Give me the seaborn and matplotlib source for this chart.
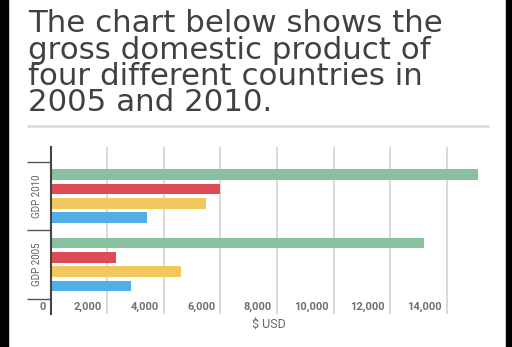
import matplotlib
matplotlib.use("Agg")
import matplotlib.pyplot as plt
import matplotlib.transforms as mtrans
from matplotlib.patches import Rectangle
from matplotlib.lines import Line2D
import seaborn as sns
import pandas as pd

# ---- data ----
periods = ["GDP 2010", "GDP 2005"]
countries = ["USA", "China", "Japan", "Germany"]
gdp_2010 = [15100, 6000, 5500, 3400]
gdp_2005 = [13200, 2300, 4600, 2850]
colors = ["#88C0A0", "#DD4B55", "#F1C75E", "#52AEE6"]
x_ticks = [0, 2000, 4000, 6000, 8000, 10000, 12000, 14000]
title_lines = ["The chart below shows the",
               "gross domestic product of",
               "four different countries in",
               "2005 and 2010."]
x_label = "\\$ USD"

rows = []
for p, vals in zip(periods, [gdp_2010, gdp_2005]):
    for c, v in zip(countries, vals):
        rows.append({"period": p, "country": c, "gdp": v})
df = pd.DataFrame(rows)

sns.set_style("white")
plt.rcParams["font.family"] = ["Roboto", "DejaVu Sans"]

W, H = 512, 347
fig = plt.figure(figsize=(W / 100, H / 100), dpi=100)
fig.patch.set_facecolor("white")

ax = fig.add_axes([50.7 / W, 1 - 314 / H, (487 - 50.7) / W, (314 - 146.7) / H])
sns.barplot(data=df, y="period", x="gdp", hue="country", order=periods,
            hue_order=countries, palette=colors, orient="h", width=0.84,
            gap=0.25, linewidth=0, saturation=1, errorbar=None,
            legend=False, ax=ax)

ax.set_xlim(0, 15420)
ax.set_ylim(1.726, -0.727)

for s in ["top", "right", "bottom"]:
    ax.spines[s].set_visible(False)
ax.spines["left"].set_color("#444444")
ax.spines["left"].set_linewidth(1.5)
ax.spines["left"].set_zorder(5)

ax.set_axisbelow(True)
ax.xaxis.grid(True, color="#cfcfcf", lw=1.1)
ax.yaxis.grid(False)

# y ticks: boundaries (major) and labels (minor)
ax.set_yticks([-0.5, 0.5, 1.5])
ax.set_yticklabels([])
ax.tick_params(axis="y", which="major", length=17, width=1, color="#555555",
               direction="out", left=True)
ax.set_yticks([0, 1], minor=True)
ax.set_yticklabels(periods, minor=True, rotation=90, va="center",
                   fontsize=7, color="#5e5e5e")
ax.tick_params(axis="y", which="minor", length=0, pad=6)

# x ticks
ax.set_xticks(x_ticks)
ax.set_xticklabels(["0" if v == 0 else f"{v:,}" for v in x_ticks])
ax.tick_params(axis="x", length=0, pad=-4.8, labelsize=8, labelcolor="#707070")
offset = mtrans.ScaledTranslation(-5 / 100, 0, fig.dpi_scale_trans)
for lab in ax.get_xticklabels():
    lab.set_ha("right")
    lab.set_va("center")
    lab.set_fontweight("bold")
    lab.set_transform(lab.get_transform() + offset)

ax.set_xlabel(x_label, fontsize=9, color="#666666", labelpad=3)
ax.set_ylabel("")

# title, fitted to reference width
title_family = ["DejaVu Sans"]
renderer = fig.canvas.get_renderer()
probe = fig.text(0, 0, title_lines[0], fontsize=20, family=title_family)
wpx = probe.get_window_extent(renderer).width
probe.remove()
fs = 20 * 415 / wpx
baselines = [32.3, 58.6, 84.9, 111.2]
for line, b in zip(title_lines, baselines):
    fig.text(28.3 / W, 1 - b / H, line, fontsize=fs, color="#414141",
             ha="left", va="baseline", family=title_family)

fig.add_artist(Line2D([28 / W, 488 / W], [1 - 126 / H, 1 - 126 / H],
                      transform=fig.transFigure, color="#dddddd", lw=2))

fig.add_artist(Rectangle((0, 0), 8 / W, 1, transform=fig.transFigure,
                         color="black", zorder=10))
fig.add_artist(Rectangle((506 / W, 0), 6 / W, 1, transform=fig.transFigure,
                         color="black", zorder=10))

fig.savefig("out.png", dpi=100)
